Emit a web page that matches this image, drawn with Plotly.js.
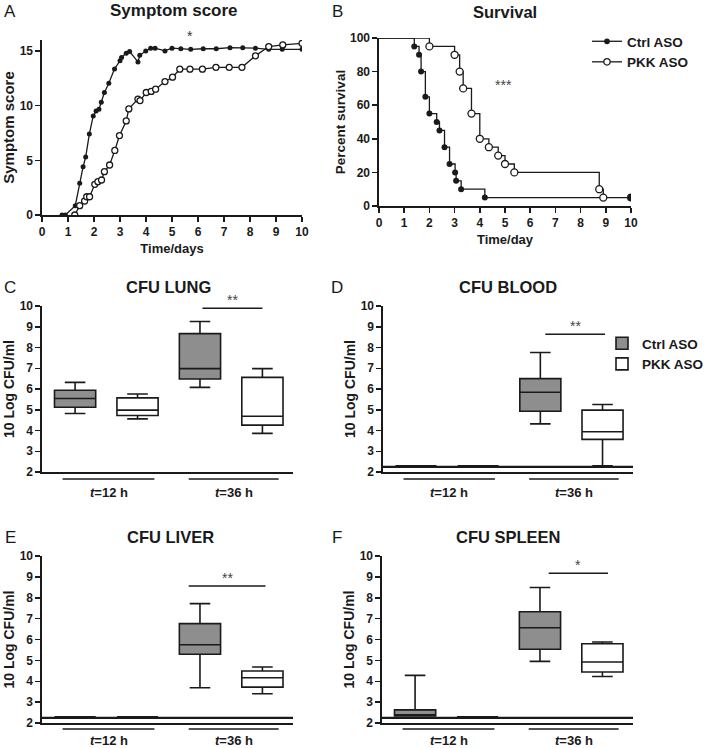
<!DOCTYPE html>
<html>
<head>
<meta charset="utf-8">
<script src="https://cdn.plot.ly/plotly-3.0.1.min.js"></script>
<style>html,body{margin:0;padding:0;background:#fff}#chart{width:709px;height:748px}</style>
</head>
<body>
<div id="chart"></div>
<script>
// ---------- Panel A: symptom score ----------
const ctrlScoreDays = [0.77,0.9,1.28,1.45,1.58,1.68,1.82,1.97,2.08,2.19,2.28,2.4,2.57,2.79,3.0,3.06,3.24,3.37,3.69,3.76,3.99,4.18,4.35,4.73,5.0,5.34,5.72,6.2,6.7,7.23,7.72,8.21,8.72,9.24,10.0];
const ctrlScore = [0,0,0.85,2.9,4.4,5.3,7.4,9.06,9.5,9.67,10.3,11.2,12.05,13.36,14.1,14.4,14.8,14.95,14.0,14.6,15.0,15.25,15.25,15.0,15.25,15.2,15.15,15.2,15.2,15.3,15.3,15.25,15.15,15.15,15.15];
const pkkScoreDays = [1.26,1.45,1.64,1.72,1.83,2.03,2.15,2.29,2.4,2.6,2.8,2.98,3.24,3.34,3.69,3.77,4.01,4.2,4.37,4.73,5.02,5.3,5.69,6.17,6.69,7.2,7.69,8.21,8.72,9.26,10.0];
const pkkScore = [0,0.85,1.28,1.67,1.67,2.8,3.05,3.2,3.96,4.57,5.9,7.26,8.6,9.7,10.6,10.46,11.2,11.3,11.5,12.2,12.6,13.33,13.33,13.33,13.5,13.5,13.5,14.55,15.4,15.55,15.7];

// ---------- Panel B: survival ----------
const ctrlSurvDays = [0,1.4,1.59,1.67,1.84,2.0,2.29,2.4,2.6,2.8,3.02,3.06,3.26,4.2,10];
const ctrlSurv = [100,95,90,80,65,55,50,45,35,25,20,15,10,5,5];
const pkkSurvDays = [0,2.0,3.0,3.2,3.34,3.67,4.0,4.36,4.73,5.0,5.37,8.74,8.9];
const pkkSurv = [100,95,90,80,70,55,40,35,30,25,20,10,5];

// ---------- Panels C-F: CFU box stats [t=12 h, t=36 h] ----------
const groupPos = [1, 3];          // Ctrl positions; PKK at +1
const groupLabels = ['<i>t</i>=12 h', '<i>t</i>=36 h'];
// order: lowerfence, q1, median, q3, upperfence
const lungCtrl  = [[4.82,5.12,5.54,5.94,6.32],[6.08,6.48,6.98,8.67,9.25]];
const lungPkk   = [[4.56,4.72,4.98,5.57,5.76],[3.86,4.26,4.69,6.56,6.98]];
const bloodCtrl = [[2.3,2.3,2.3,2.3,2.3],[4.32,4.93,5.84,6.5,7.76]];
const bloodPkk  = [[2.3,2.3,2.3,2.3,2.3],[2.3,3.57,3.94,4.98,5.25]];
const liverCtrl = [[2.3,2.3,2.3,2.3,2.3],[3.69,5.29,5.75,6.76,7.72]];
const liverPkk  = [[2.3,2.3,2.3,2.3,2.3],[3.4,3.72,4.17,4.49,4.68]];
const spleenCtrl= [[2.34,2.34,2.34,2.63,4.28],[4.95,5.53,6.56,7.33,8.49]];
const spleenPkk = [[2.3,2.3,2.3,2.3,2.3],[4.23,4.44,4.92,5.8,5.88]];
const detectionLimit = [null, 2.25, 2.25, 2.25]; // C, D, E, F

const boxTitles = ['CFU LUNG','CFU BLOOD','CFU LIVER','CFU SPLEEN'];
const sigX0 = [3.04, 3.08, 2.82, 3.14];
const sigX1 = [4.0, 4.04, 4.05, 4.09];
const sigY = [9.89, 8.64, 8.56, 9.17];
const sigText = ['**','**','**','*'];

// ---------- styling ----------
const FONT = 'Liberation Sans, Arial, sans-serif';
const INK = '#1a1a1a';
const GRAY = '#8e8e8e';
const W = 709, H = 748;
const px = v => v / W;
const py = v => 1 - v / H;

const traces = [];
// Panel A
traces.push({x: ctrlScoreDays, y: ctrlScore, xaxis:'x', yaxis:'y', mode:'lines+markers', showlegend:false,
  line:{color:INK, width:1.3}, marker:{color:INK, size:5, symbol:'circle', opacity:1}, name:'Ctrl ASO'});
traces.push({x: pkkScoreDays, y: pkkScore, xaxis:'x', yaxis:'y', mode:'lines+markers', showlegend:false,
  line:{color:INK, width:1.3}, marker:{color:'#fff', size:6, symbol:'circle', opacity:1, line:{color:INK, width:1.3}}, name:'PKK ASO'});
// Panel B
traces.push({x: ctrlSurvDays, y: ctrlSurv, xaxis:'x2', yaxis:'y2', mode:'lines+markers', name:'Ctrl ASO', legend:'legend',
  line:{color:INK, width:1.3, shape:'hv'},
  marker:{color:INK, opacity:1, size: ctrlSurvDays.map((d,i)=> i===0 ? 0 : (i===ctrlSurvDays.length-1 ? 8 : 6)), symbol:'circle',
    line:{color:INK, width:0}}});
traces.push({x: pkkSurvDays, y: pkkSurv, xaxis:'x2', yaxis:'y2', mode:'lines+markers', name:'PKK ASO', legend:'legend',
  line:{color:INK, width:1.3, shape:'hv'},
  marker:{color:'#fff', opacity:1, size: pkkSurvDays.map((d,i)=> i===0 ? 0 : 7), symbol:'circle', line:{color:INK, width:1.3}}});

// Box panels
const boxSets = [[lungCtrl,lungPkk],[bloodCtrl,bloodPkk],[liverCtrl,liverPkk],[spleenCtrl,spleenPkk]];
boxSets.forEach((set, k) => {
  const ax = k + 3;
  const xa = 'x' + ax, ya = 'y' + ax;
  [0,1].forEach(s => {
    const st = set[s];
    traces.push({
      type:'box', xaxis:xa, yaxis:ya,
      x: groupPos.map(p => p + s),
      lowerfence: st.map(r=>r[0]), q1: st.map(r=>r[1]), median: st.map(r=>r[2]),
      q3: st.map(r=>r[3]), upperfence: st.map(r=>r[4]),
      width: 0.66, whiskerwidth: 0.5,
      fillcolor: s===0 ? GRAY : '#ffffff',
      line:{color:INK, width:1.6},
      name: s===0 ? 'Ctrl ASO' : 'PKK ASO',
      showlegend: k===1, legend:'legend2', hoverinfo:'skip'
    });
  });
});

const tickfont = {family:FONT, size:12, color:INK, weight:'bold'};
const tf = s => ({family:FONT, size:s, color:INK, weight:'bold'});
function yax(domain, range, extra) {
  return Object.assign({domain, range, showline:true, linecolor:INK, linewidth:1.6, ticks:'outside', ticklen:5,
    tickwidth:1.5, tickcolor:INK, showgrid:false, zeroline:false, tickfont, automargin:false, fixedrange:true}, extra);
}
function xax(domain, range, extra) {
  return Object.assign({domain, range, showline:true, linecolor:INK, linewidth:1.6, ticks:'outside', ticklen:5,
    tickwidth:1.5, tickcolor:INK, showgrid:false, zeroline:false, tickfont, automargin:false, fixedrange:true}, extra);
}
const boxX = () => ({showticklabels:false, ticks:'', tickvals:[]});
const boxRange = [0.47, 4.49];
const cfuTitle = () => ({text:'10 Log CFU/ml', font:tf(14), standoff:2});

const layout = {
  width: W, height: H, margin:{l:0,r:0,t:0,b:0, autoexpand:false}, paper_bgcolor:'#fff', plot_bgcolor:'rgba(0,0,0,0)',
  font:{family:FONT, color:INK},
  xaxis: xax([px(42), px(302)], [0,10], {dtick:1, title:{text:'Time/days', font:tf(13), standoff:6}}),
  yaxis: yax([py(215), py(40)], [0,16], {tickvals:[0,5,10,15], title:{text:'Symptom score', font:tf(15), standoff:2}}),
  xaxis2: xax([px(379), px(631)], [0,10], {anchor:'y2', dtick:1, title:{text:'Time/day', font:tf(13), standoff:6}}),
  yaxis2: yax([py(206), py(38)], [0,100], {anchor:'x2', dtick:20, title:{text:'Percent survival', font:tf(13.5), standoff:1}}),
  xaxis3: xax([px(42), px(293)], boxRange, Object.assign({anchor:'y3'}, boxX())),
  yaxis3: yax([py(472), py(306)], [2,10], {anchor:'x3', dtick:1, title:cfuTitle()}),
  xaxis4: xax([px(383), px(633)], boxRange, Object.assign({anchor:'y4'}, boxX())),
  yaxis4: yax([py(472), py(306)], [2,10], {anchor:'x4', dtick:1, title:cfuTitle()}),
  xaxis5: xax([px(42), px(293)], boxRange, Object.assign({anchor:'y5'}, boxX())),
  yaxis5: yax([py(723), py(556)], [2,10], {anchor:'x5', dtick:1, title:cfuTitle()}),
  xaxis6: xax([px(382), px(633)], boxRange, Object.assign({anchor:'y6'}, boxX())),
  yaxis6: yax([py(723), py(556)], [2,10], {anchor:'x6', dtick:1, title:cfuTitle()}),
  legend: {x: px(587), y: py(26), xanchor:'left', yanchor:'top', bgcolor:'rgba(0,0,0,0)',
    font:{family:FONT, size:13.5, color:INK, weight:'bold'}, tracegroupgap:0},
  legend2: {x: 1, y: py(328), xanchor:'right', yanchor:'top', bgcolor:'rgba(0,0,0,0)',
    font:{family:FONT, size:13.5, color:INK, weight:'bold'}, tracegroupgap:0},
  boxmode:'overlay',
  shapes: [], annotations: []
};

// Panel titles and letters
const titles = [
  {t:'Symptom score', x:174, y:10}, {t:'Survival', x:505, y:12},
  {t:boxTitles[0], x:168, y:287}, {t:boxTitles[1], x:508, y:287},
  {t:boxTitles[2], x:170, y:537}, {t:boxTitles[3], x:508, y:537}
];
titles.forEach((o, i) => layout.annotations.push({text:o.t, x:px(o.x), y:py(o.y), xref:'paper', yref:'paper',
  xanchor:'center', yanchor:'middle', showarrow:false, font:{family:FONT, size: i===0 ? 17 : 16.5, color:INK, weight:'bold'}}));
const letters = [['A',10,12],['B',337,12],['C',10,287],['D',337,287],['E',10,537],['F',337,537]];
letters.forEach(l => layout.annotations.push({text:l[0], x:px(l[1]), y:py(l[2]), xref:'paper', yref:'paper',
  xanchor:'center', yanchor:'middle', showarrow:false, font:{family:FONT, size:17, color:INK}}));

// significance stars in A and B
layout.annotations.push({text:'*', x:5.7, y:15.3, xref:'x', yref:'y', yanchor:'bottom', yshift:2, showarrow:false,
  font:{family:FONT, size:14, color:'#333'}});
layout.annotations.push({text:'***', x:4.95, y:72, xref:'x2', yref:'y2', showarrow:false,
  font:{family:FONT, size:14, color:'#444'}});

// box panel decorations
const groupLineY = [479, 479, 729, 729];
const groupLabelY = [492, 492, 740, 740];
const groupSpans = [[0.8, 2.27], [2.82, 4.26]];
[0,1,2,3].forEach(k => {
  const ax = k + 3;
  const xr = 'x' + ax, yr = 'y' + ax;
  if (detectionLimit[k] !== null) {
    layout.shapes.push({type:'line', xref:xr + ' domain', yref:yr, x0:0, x1:1, y0:detectionLimit[k], y1:detectionLimit[k],
      line:{color:INK, width:2.2}});
  }
  layout.shapes.push({type:'line', xref:xr, yref:yr, x0:sigX0[k], x1:sigX1[k], y0:sigY[k], y1:sigY[k],
    line:{color:INK, width:1.5}});
  layout.annotations.push({text:sigText[k], x:(sigX0[k]+sigX1[k])/2, y:sigY[k], xref:xr, yref:yr,
    yanchor:'bottom', yshift:-2, showarrow:false, font:{family:FONT, size:14, color:'#444'}});
  groupSpans.forEach((sp, g) => {
    layout.shapes.push({type:'line', xref:xr, yref:'paper', x0:sp[0], x1:sp[1], y0:py(groupLineY[k]), y1:py(groupLineY[k]),
      line:{color:INK, width:1.5}});
    layout.annotations.push({text:groupLabels[g], x:(sp[0]+sp[1])/2, y:py(groupLabelY[k]), xref:xr, yref:'paper',
      yanchor:'middle', showarrow:false, font:{family:FONT, size:13, color:INK, weight:'bold'}});
  });
});

Plotly.newPlot('chart', traces, layout, {staticPlot:true, displayModeBar:false});
</script>
</body>
</html>
